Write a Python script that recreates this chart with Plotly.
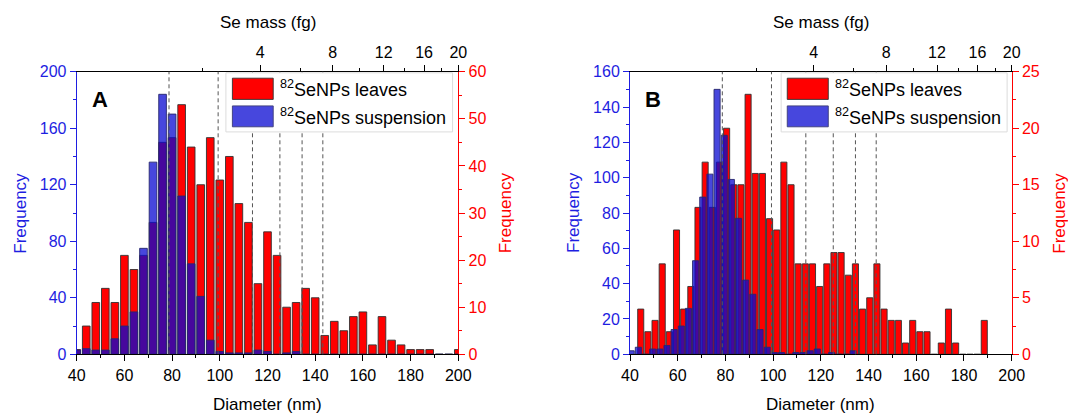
import plotly.graph_objects as go

# ---------------- data ----------------
# Panel A : 4 nm bins
diam_a = [40, 44, 48, 52, 56, 60, 64, 68, 72, 76, 80, 84, 88, 92, 96, 100, 104, 108, 112, 116,
          120, 124, 128, 132, 136, 140, 144, 148, 152, 156, 160, 164, 168, 172, 176, 180, 184, 188,
          192, 196, 200]
leaves_a = [1, 6, 11, 14, 11, 21, 18, 21, 28, 45, 46, 53, 44, 36, 46, 37, 42, 32, 28, 15,
            26, 21, 10, 11, 14, 12, 4, 7, 5, 8, 9, 2, 8, 3, 2, 1, 1, 1,
            0, 0, 1]
susp_a = [3, 4, 3, 3, 11, 20, 30, 75, 136, 184, 170, 112, 64, 41, 10, 2, 1, 1, 1, 3,
          2, 0, 1, 2, 0, 0, 0, 0, 0, 0, 0, 0, 0, 0, 0, 0, 0, 0,
          0, 0, 0]

# Panel B : 3 nm bins
diam_b_leaves = [44.5, 47.5, 50.5, 53.5, 56.5, 59.5, 62.5, 65.5, 68.5, 71.5, 74.5, 77.5, 80.5,
                 83.5, 86.5, 89.5, 92.5, 95.5, 98.5, 101.5, 104.5, 107.5, 110.5, 113.5, 116.5,
                 119.5, 122.5, 125.5, 128.5, 131.5, 134.5, 137.5, 140.5, 143.5, 146.5, 149.5,
                 152.5, 155.5, 158.5, 161.5, 164.5, 167.5, 170.5, 173.5, 176.5, 179.5, 182.5,
                 185.5, 188.5]
leaves_b = [4, 2, 3, 8, 2, 11, 4, 6, 13, 17, 13, 17, 20,
            15, 15, 23, 16, 16, 12, 11, 17, 15, 8, 8, 8,
            6, 8, 9, 9, 7, 8, 4, 5, 8, 4, 3,
            3, 1, 3, 2, 2, 0, 1, 4, 1, 0, 0,
            0, 3]
diam_b_susp = [40.5, 43.5, 46.5, 49.5, 52.5, 55.5, 58.5, 61.5, 64.5, 67.5, 70.5, 73.5, 76.5,
               79.5, 82.5, 85.5, 88.5, 91.5, 94.5, 97.5, 100.5, 103.5, 106.5, 109.5, 112.5,
               115.5, 118.5, 121.5, 124.5, 127.5, 130.5, 133.5]
susp_b = [2, 4, 0, 3, 3, 5, 14, 16, 26, 53, 89, 102, 150,
          124, 99, 77, 42, 34, 14, 4, 1, 1, 0, 1, 1,
          2, 3, 0, 1, 0, 0, 2]

# Dashed reference diameters (nm) and top-axis mass ticks (fg)
dashed_diam = [78.7, 99.3, 113.7, 125.2, 134.5, 143.2]
mass_ticks = [4, 8, 12, 16, 20]
mass_minor = [2, 6, 10, 14, 18]

# ---------------- style ----------------
W, H = 1068, 416
FONT = "Liberation Sans, Arial, sans-serif"
RED = "#ff0000"
BLUE = "rgb(30,30,225)"
BLUE_FILL = "rgba(10,10,210,0.75)"
EDGE = "rgba(50,50,50,0.9)"


def mass_to_d(m):
    return 200.0 * (m / 20.0) ** (1.0 / 3.0)


def px_x(p):
    return p / W


def px_y(p):
    return 1 - p / H


yd = [px_y(354.3), px_y(71.7)]
panels = [
    dict(dom=[px_x(76.7), px_x(458.3)], xb="x", xt="x2", yr="y", yl="y2",
         diam_l=diam_a, leaves=leaves_a, diam_s=diam_a, susp=susp_a, width=3.2,
         rmax=60, rdt=10, rmin=5, lmax=200, ldt=40, lmin=20, letter="A",
         lx0=0.391, sw0=0.408, sw1=0.515, tx=0.527, lx1=0.985),
    dict(dom=[px_x(630.0), px_x(1011.7)], xb="x3", xt="x4", yr="y3", yl="y4",
         diam_l=diam_b_leaves, leaves=leaves_b, diam_s=diam_b_susp, susp=susp_b, width=2.55,
         rmax=25, rdt=5, rmin=2.5, lmax=160, ldt=20, lmin=10, letter="B",
         lx0=0.396, sw0=0.412, sw1=0.5195, tx=0.532, lx1=0.988),
]

fig = go.Figure()
layout = dict(width=W, height=H, margin=dict(l=0, r=0, t=0, b=0, pad=0, autoexpand=False),
              autosize=False, paper_bgcolor="white", plot_bgcolor="white", barmode="overlay",
              showlegend=False, font=dict(family=FONT, size=16, color="black"))
shapes, annotations = [], []


def axname(ref):
    return "xaxis" + ref[1:] if ref.startswith("x") else "yaxis" + ref[1:]


for p in panels:
    fig.add_trace(go.Bar(x=p["diam_l"], y=p["leaves"], width=p["width"],
                         marker=dict(color=RED, line=dict(color=EDGE, width=1)),
                         xaxis=p["xb"], yaxis=p["yr"], name="82SeNPs leaves"))
    fig.add_trace(go.Bar(x=p["diam_s"], y=p["susp"], width=p["width"],
                         marker=dict(color=BLUE_FILL, line=dict(color="rgba(40,40,110,0.9)", width=1)),
                         xaxis=p["xb"], yaxis=p["yl"], name="82SeNPs suspension"))
    # invisible carrier so the top (mass) axis is drawn
    fig.add_trace(go.Scatter(x=p["diam_l"], y=p["leaves"], mode="markers",
                             marker=dict(opacity=0, size=1), hoverinfo="skip",
                             xaxis=p["xt"], yaxis=p["yr"], showlegend=False))

    tickfont = dict(family=FONT, size=16, color="black")
    layout[axname(p["xb"])] = dict(
        domain=p["dom"], range=[40, 200], anchor=p["yr"], showline=True, linecolor="black",
        linewidth=1, ticks="outside", ticklen=6, tickcolor="black", tick0=40, dtick=20,
        minor=dict(dtick=10, ticks="outside", ticklen=3, tickcolor="black"),
        showgrid=False, zeroline=False, tickfont=tickfont, automargin=False, fixedrange=True)
    layout[axname(p["xt"])] = dict(
        overlaying=p["xb"], side="top", range=[40, 200], anchor=p["yr"], showline=True,
        linecolor="black", linewidth=1, ticks="outside", ticklen=6, tickcolor="black",
        tickmode="array", tickvals=[mass_to_d(m) for m in mass_ticks],
        ticktext=[str(m) for m in mass_ticks],
        minor=dict(tickmode="array", tickvals=[mass_to_d(m) for m in mass_minor],
                   ticks="outside", ticklen=3, tickcolor="black"),
        showgrid=False, zeroline=False, tickfont=tickfont, automargin=False, fixedrange=True)
    layout[axname(p["yr"])] = dict(
        domain=yd, range=[0, p["rmax"]], anchor=p["xb"], side="right", showline=True,
        linecolor=RED, linewidth=1, ticks="outside", ticklen=6, tickcolor=RED, tick0=0,
        dtick=p["rdt"], minor=dict(dtick=p["rmin"], ticks="outside", ticklen=3, tickcolor=RED),
        showgrid=False, zeroline=False, tickfont=dict(family=FONT, size=16, color=RED),
        automargin=False, fixedrange=True)
    layout[axname(p["yl"])] = dict(
        overlaying=p["yr"], range=[0, p["lmax"]], anchor=p["xb"], side="left", showline=True,
        linecolor=BLUE, linewidth=1, ticks="outside", ticklen=6, tickcolor=BLUE, tick0=0,
        dtick=p["ldt"], minor=dict(dtick=p["lmin"], ticks="outside", ticklen=3, tickcolor=BLUE),
        showgrid=False, zeroline=False, tickfont=dict(family=FONT, size=16, color=BLUE),
        automargin=False, fixedrange=True)

    xdom = p["xb"] + " domain"
    ydom = p["yr"] + " domain"
    for d in dashed_diam:
        shapes.append(dict(type="line", xref=p["xb"], yref=ydom, x0=d, x1=d, y0=0, y1=1,
                           layer="above", line=dict(color="#555555", width=1, dash="4px,3px")))
    # legend box
    shapes.append(dict(type="rect", xref=xdom, yref=ydom, x0=p["lx0"], x1=p["lx1"], y0=0.787,
                       y1=0.996, layer="above", fillcolor="white",
                       line=dict(color="rgba(220,220,220,1)", width=1)))
    shapes.append(dict(type="rect", xref=xdom, yref=ydom, x0=p["sw0"], x1=p["sw1"], y0=0.902,
                       y1=0.977, layer="above", fillcolor=RED, line=dict(color=EDGE, width=1)))
    shapes.append(dict(type="rect", xref=xdom, yref=ydom, x0=p["sw0"], x1=p["sw1"], y0=0.805,
                       y1=0.879, layer="above", fillcolor="rgb(71,71,221)",
                       line=dict(color="rgba(60,60,120,0.9)", width=1)))
    annotations.append(dict(text="<sup>82</sup>SeNPs leaves", xref=xdom, yref=ydom, x=p["tx"],
                            y=0.94, xanchor="left", yanchor="middle", showarrow=False,
                            font=dict(family=FONT, size=18, color="black")))
    annotations.append(dict(text="<sup>82</sup>SeNPs suspension", xref=xdom, yref=ydom,
                            x=p["tx"], y=0.842, xanchor="left", yanchor="middle",
                            showarrow=False, font=dict(family=FONT, size=18, color="black")))
    annotations.append(dict(text="<b>%s</b>" % p["letter"], xref=xdom, yref=ydom, x=0.06,
                            y=0.9, xanchor="center", yanchor="middle", showarrow=False,
                            font=dict(family=FONT, size=22, color="black")))

    cx = (p["dom"][0] + p["dom"][1]) / 2
    annotations.append(dict(text="Se mass (fg)", xref="paper", yref="paper", x=cx,
                            y=px_y(22), xanchor="center", yanchor="middle", showarrow=False,
                            font=dict(family=FONT, size=17, color="black")))
    annotations.append(dict(text="Diameter (nm)", xref="paper", yref="paper", x=cx,
                            y=px_y(404), xanchor="center", yanchor="middle", showarrow=False,
                            font=dict(family=FONT, size=17, color="black")))
    ymid = (yd[0] + yd[1]) / 2
    annotations.append(dict(text="Frequency", xref="paper", yref="paper",
                            x=p["dom"][0] - px_x(57), y=ymid, xanchor="center",
                            yanchor="middle", textangle=-90, showarrow=False,
                            font=dict(family=FONT, size=17, color=BLUE)))
    annotations.append(dict(text="Frequency", xref="paper", yref="paper",
                            x=p["dom"][1] + px_x(47), y=ymid, xanchor="center",
                            yanchor="middle", textangle=-90, showarrow=False,
                            font=dict(family=FONT, size=17, color=RED)))

layout["shapes"] = shapes
layout["annotations"] = annotations
fig.update_layout(**layout)
fig.write_html("out.html", config={"displayModeBar": False},
               post_script="document.body.style.margin='0px';")
